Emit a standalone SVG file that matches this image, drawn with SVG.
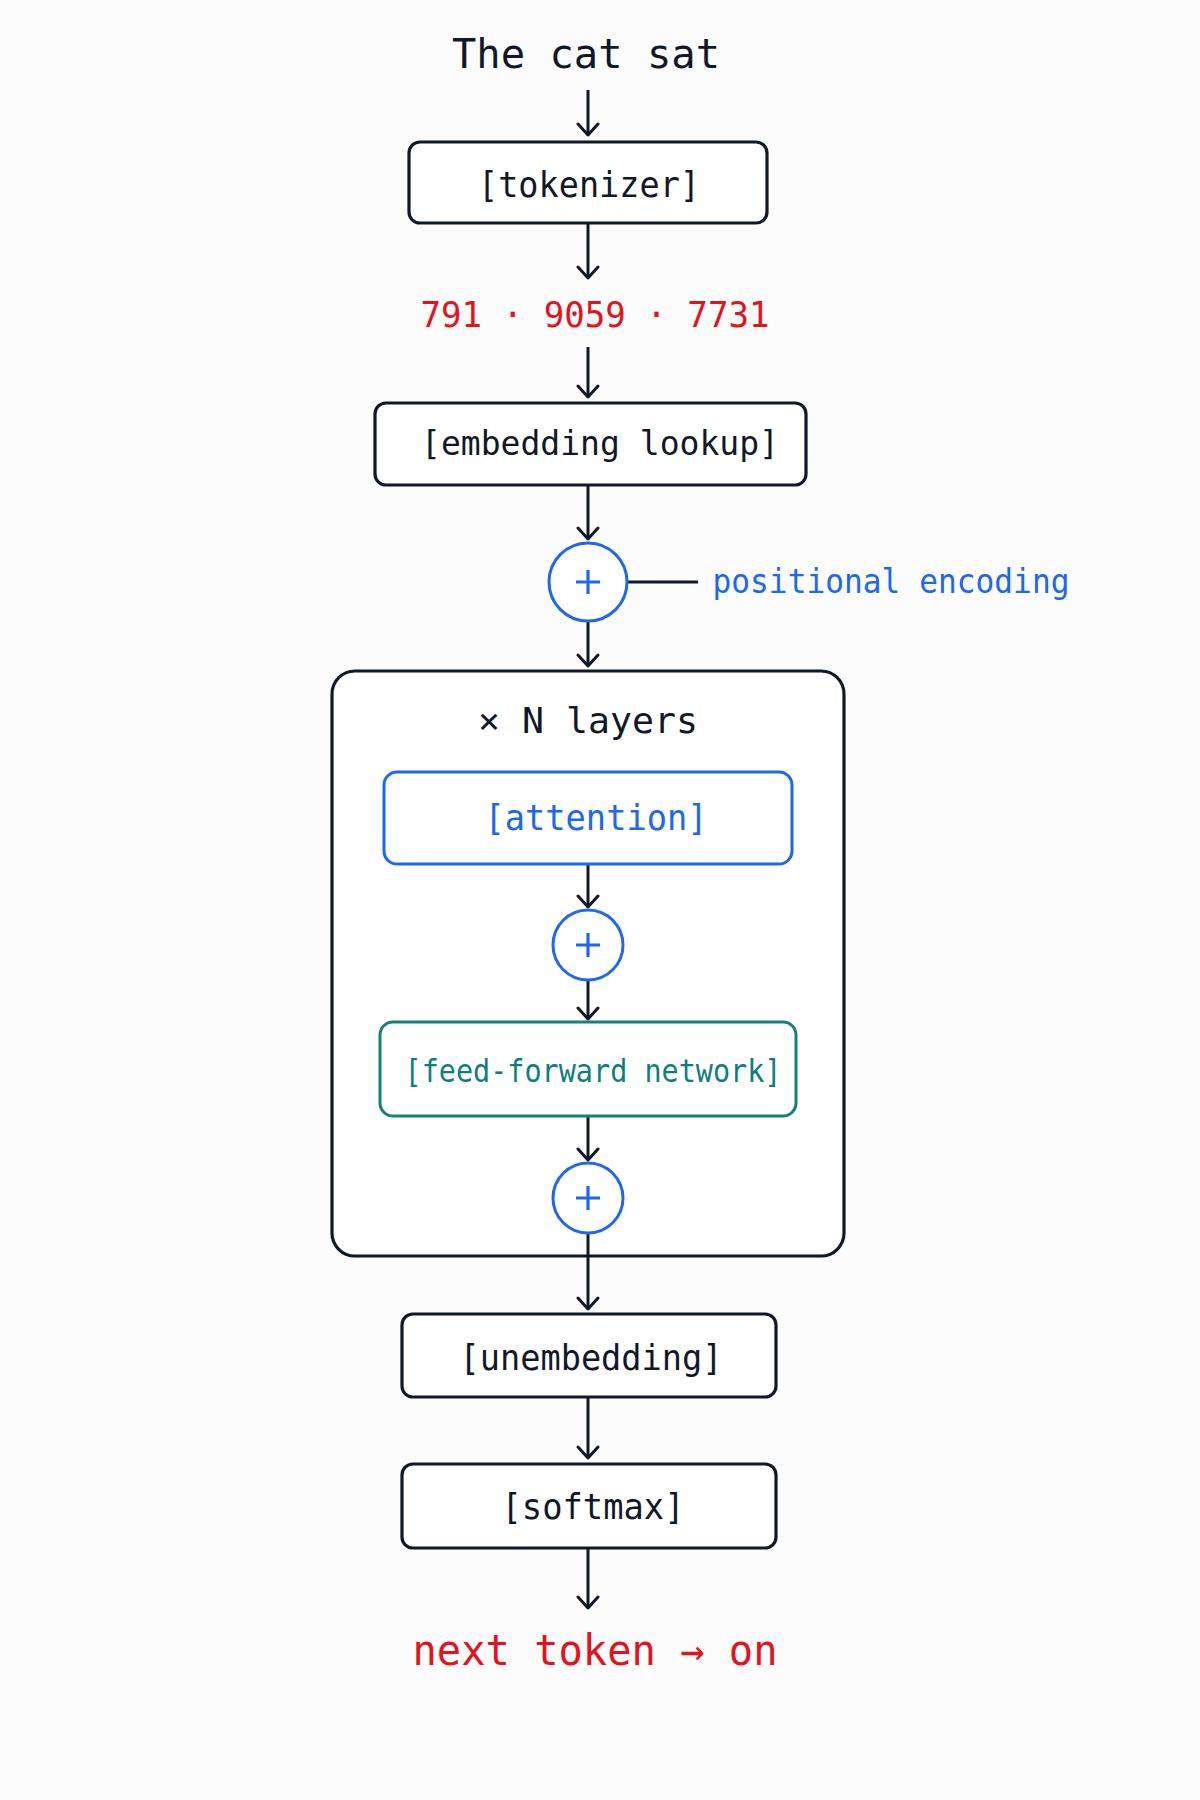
<svg xmlns="http://www.w3.org/2000/svg" width="1200" height="1800" viewBox="0 0 1200 1800">
  <defs>
    <marker id="arr" markerUnits="userSpaceOnUse" markerWidth="26" markerHeight="26" viewBox="0 0 26 26" refX="13" refY="13" orient="auto">
      <path d="M2,3 L13,13 L2,23" fill="none" stroke="#111827" stroke-width="3" stroke-linecap="round" stroke-linejoin="round"/>
    </marker>
  </defs>
  <style>
    text { font-family: "DejaVu Sans Mono", "Liberation Mono", monospace; text-anchor: middle; }
    .dark { fill: #111827; }
    .red { fill: #e3121c; }
    .blue { fill: #2166ee; }
    .teal { fill: #107e7a; }
    .box { fill: #ffffff; stroke: #111827; stroke-width: 3.2; }
    .bbox { fill: #ffffff; stroke: #2166ee; stroke-width: 3; }
    .tbox { fill: #ffffff; stroke: #17807b; stroke-width: 3; }
    .sum { fill: #ffffff; stroke: #2166ee; stroke-width: 3; }
    .plus { stroke: #2166ee; stroke-width: 3.2; fill: none; }
    .edge { stroke: #111827; stroke-width: 3; fill: none; }
  </style>
  <rect x="0" y="0" width="1200" height="1800" fill="#fcfcfc"/>

  <g id="layers-frame">
    <rect x="332" y="671" width="512" height="585" rx="23" class="box"/>
    <text x="588" y="733" font-size="36" class="dark" textLength="220" lengthAdjust="spacingAndGlyphs">× N layers</text>
  </g>

  <g id="connectors">
    <line x1="588" y1="90" x2="588" y2="135" class="edge" marker-end="url(#arr)"/>
    <line x1="588" y1="223" x2="588" y2="278" class="edge" marker-end="url(#arr)"/>
    <line x1="588" y1="347" x2="588" y2="397" class="edge" marker-end="url(#arr)"/>
    <line x1="588" y1="485" x2="588" y2="539" class="edge" marker-end="url(#arr)"/>
    <line x1="627" y1="582" x2="698" y2="582" class="edge"/>
    <line x1="588" y1="621" x2="588" y2="666" class="edge" marker-end="url(#arr)"/>
    <line x1="588" y1="864" x2="588" y2="907" class="edge" marker-end="url(#arr)"/>
    <line x1="588" y1="980" x2="588" y2="1019" class="edge" marker-end="url(#arr)"/>
    <line x1="588" y1="1116" x2="588" y2="1160" class="edge" marker-end="url(#arr)"/>
    <line x1="588" y1="1233" x2="588" y2="1309" class="edge" marker-end="url(#arr)"/>
    <line x1="588" y1="1397" x2="588" y2="1458" class="edge" marker-end="url(#arr)"/>
    <line x1="588" y1="1548" x2="588" y2="1608" class="edge" marker-end="url(#arr)"/>
  </g>

  <g id="input-text">
    <text x="586" y="68" font-size="40" class="dark" textLength="268" lengthAdjust="spacingAndGlyphs">The cat sat</text>
  </g>

  <g id="tokenizer">
    <rect x="409" y="142" width="358" height="81" rx="11" class="box"/>
    <text x="589" y="197" font-size="36" class="dark" textLength="222" lengthAdjust="spacingAndGlyphs">[tokenizer]</text>
  </g>

  <g id="token-ids">
    <text x="595" y="327" font-size="36" class="red" textLength="349" lengthAdjust="spacingAndGlyphs">791 · 9059 · 7731</text>
  </g>

  <g id="embedding-lookup">
    <rect x="375" y="403" width="431" height="82" rx="11" class="box"/>
    <text x="600" y="455" font-size="34" class="dark" textLength="358" lengthAdjust="spacingAndGlyphs">[embedding lookup]</text>
  </g>

  <g id="pos-sum">
    <circle cx="588" cy="582" r="39" class="sum"/>
    <path d="M576,582 H600 M588,570 V594" class="plus"/>
  </g>

  <g id="positional-encoding">
    <text x="891" y="593" font-size="33" class="blue" textLength="357" lengthAdjust="spacingAndGlyphs">positional encoding</text>
  </g>

  <g id="attention">
    <rect x="384" y="772" width="408" height="92" rx="13" class="bbox"/>
    <text x="596" y="830" font-size="36" class="blue" textLength="223" lengthAdjust="spacingAndGlyphs">[attention]</text>
  </g>

  <g id="residual-1">
    <circle cx="588" cy="945" r="35" class="sum"/>
    <path d="M576,945 H600 M588,933 V957" class="plus"/>
  </g>

  <g id="feed-forward">
    <rect x="380" y="1022" width="416" height="94" rx="13" class="tbox"/>
    <text x="593" y="1082" font-size="32" class="teal" textLength="377" lengthAdjust="spacingAndGlyphs">[feed-forward network]</text>
  </g>

  <g id="residual-2">
    <circle cx="588" cy="1198" r="35" class="sum"/>
    <path d="M576,1198 H600 M588,1186 V1210" class="plus"/>
  </g>

  <g id="unembedding">
    <rect x="402" y="1314" width="374" height="83" rx="11" class="box"/>
    <text x="591" y="1370" font-size="35" class="dark" textLength="263" lengthAdjust="spacingAndGlyphs">[unembedding]</text>
  </g>

  <g id="softmax">
    <rect x="402" y="1464" width="374" height="84" rx="11" class="box"/>
    <text x="593" y="1519" font-size="35" class="dark" textLength="183" lengthAdjust="spacingAndGlyphs">[softmax]</text>
  </g>

  <g id="next-token">
    <text x="595" y="1665" font-size="42" class="red" textLength="365" lengthAdjust="spacingAndGlyphs">next token → on</text>
  </g>
</svg>
